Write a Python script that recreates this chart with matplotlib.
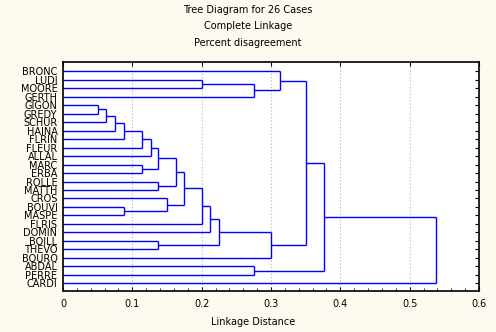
import numpy as np
import matplotlib
matplotlib.use("Agg")
from matplotlib import pyplot as plt

# leaves, top to bottom
cases = ['BRONC', 'LUDI', 'MOORE', 'GERTH', 'GIGON', 'GREDY', 'SCHUR', 'HAINA',
         'FLRIN', 'FLEUR', 'ALLAL', 'MARC', 'ERBA', 'ROLLE', 'MATTH', 'CROS',
         'BOUVI', 'MASPE', 'FLRIS', 'DOMIN', 'BOILL', 'THEVO', 'BOURQ', 'ABDAL',
         'PERRE', 'CARDI']

# merges: cluster 26+k joins merge_a[k] and merge_b[k] at merge_dist[k]
merge_a = [4, 26, 27, 28, 16, 11, 29, 32, 33, 13, 20, 15, 34, 38, 1, 39, 41, 42, 40, 23, 43, 0, 47, 48, 49]
merge_b = [5, 6, 7, 8, 17, 12, 9, 10, 31, 14, 21, 30, 35, 37, 2, 18, 19, 36, 3, 24, 22, 44, 46, 45, 25]
merge_dist = [0.051, 0.0625, 0.0755, 0.0885, 0.0885, 0.1135, 0.1135, 0.1265, 0.1375,
              0.1375, 0.1375, 0.1505, 0.1635, 0.175, 0.201, 0.201, 0.2125, 0.2255,
              0.276, 0.276, 0.3005, 0.3135, 0.351, 0.376, 0.5385]

bg = '#fffaf0'
fig = plt.figure(figsize=(4.96, 3.32), dpi=100, facecolor=bg)
ax = fig.add_axes([63/496, 1-290.5/332, (479-63)/496, (290.5-62)/332])
ax.set_facecolor('white')

n = len(cases)
pos_y = {i: float(i) for i in range(n)}
pos_x = {i: 0.0 for i in range(n)}
for k, (a, b, d) in enumerate(zip(merge_a, merge_b, merge_dist)):
    for c in (a, b):
        ax.plot([pos_x[c], d], [pos_y[c], pos_y[c]], color='#0000ff', lw=1, solid_capstyle='butt')
    ax.plot([d, d], [pos_y[a], pos_y[b]], color='#0000ff', lw=1, solid_capstyle='butt')
    pos_y[n+k] = (pos_y[a] + pos_y[b]) / 2
    pos_x[n+k] = d

ax.set_xlim(0, 0.6)
ax.set_ylim(25 + 7.2/8.48, -9.3/8.48)
ax.set_yticks(range(n))
ax.set_yticklabels(cases, fontsize=7)
ax.tick_params(axis='y', left=False, right=True, labelleft=True, direction='in', length=3, pad=4)
ax.set_xticks(np.arange(0, 0.61, 0.1))
ax.set_xticklabels(['0', '0.1', '0.2', '0.3', '0.4', '0.5', '0.6'], fontsize=7)
ax.set_xticks(np.arange(0, 0.61, 0.02), minor=True)
ax.tick_params(axis='x', which='major', direction='in', top=True, length=3, pad=6)
ax.tick_params(axis='x', which='minor', direction='in', length=2)
ax.grid(axis='x', color='#b4b4b4', linestyle=(0, (1, 2)), lw=0.8)
ax.set_axisbelow(True)
for s in ax.spines.values():
    s.set_linewidth(1.2)

fig.text(248/496, 1-10/332, 'Tree Diagram for 26 Cases', ha='center', va='center', fontsize=7)
fig.text(248/496, 1-26/332, 'Complete Linkage', ha='center', va='center', fontsize=7)
fig.text(248/496, 1-43/332, 'Percent disagreement', ha='center', va='center', fontsize=7)
fig.text(253/496, 1-322/332, 'Linkage Distance', ha='center', va='center', fontsize=7)

fig.savefig('out.png', dpi=100, facecolor=bg)
